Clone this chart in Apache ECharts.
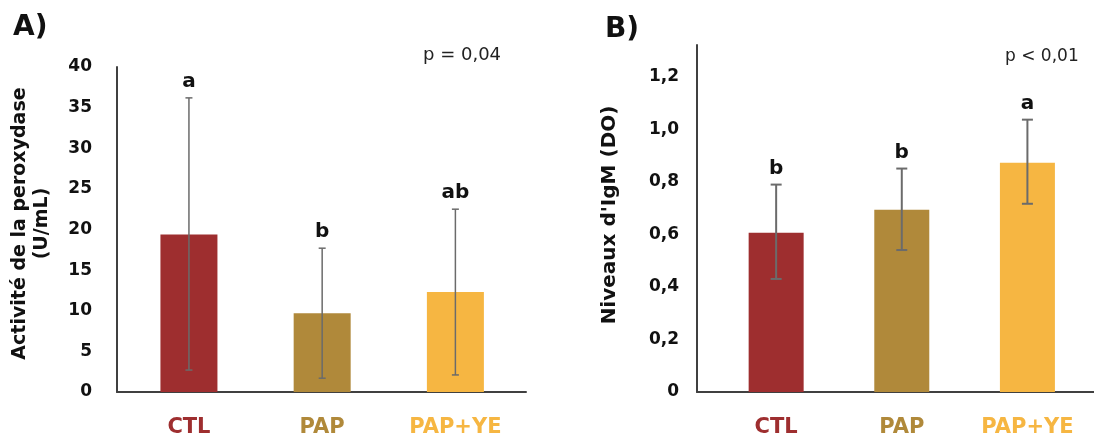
<!DOCTYPE html>
<html>
<head>
<meta charset="utf-8">
<script src="https://cdn.jsdelivr.net/npm/echarts@6/dist/echarts.min.js"></script>
<style>
html, body { margin: 0; padding: 0; background: #fff; }
#main { width: 1094px; height: 439px; }
</style>
</head>
<body>
<div id="main"></div>
<script>
// groupes
var categories = ['CTL', 'PAP', 'PAP+YE'];
var barColors = ['#9E2E2F', '#B0893A', '#F6B642'];

// A) peroxydase (U/mL)
var peroxMean = [19.4, 9.7, 12.3];
var peroxHigh = [36.2, 17.7, 22.5];
var peroxLow = [2.7, 1.7, 2.1];
var peroxLetters = ['a', 'b', 'ab'];

// B) IgM (DO)
var igmMean = [0.606, 0.693, 0.872];
var igmHigh = [0.789, 0.85, 1.036];
var igmLow = [0.43, 0.54, 0.716];
var igmLetters = ['b', 'b', 'a'];

var font = '"DejaVu Sans", sans-serif';
var axisColor = '#404040';
var errColor = '#6b6b6b';

function barData(vals) {
    return vals.map(function (v, i) {
        return { value: [i, v], itemStyle: { color: barColors[i] } };
    });
}

function errData(low, high, letters) {
    return low.map(function (l, i) { return [i, l, high[i], letters[i]]; });
}

function errRender(capHalf, lw) {
    return function (params, api) {
        var x = api.value(0);
        var lo = api.coord([x, api.value(1)]);
        var hi = api.coord([x, api.value(2)]);
        var st = { stroke: errColor, lineWidth: lw };
        return {
            type: 'group',
            children: [
                { type: 'line', shape: { x1: lo[0], y1: lo[1], x2: hi[0], y2: hi[1] }, style: st },
                { type: 'line', shape: { x1: lo[0] - capHalf, y1: lo[1], x2: lo[0] + capHalf, y2: lo[1] }, style: st },
                { type: 'line', shape: { x1: hi[0] - capHalf, y1: hi[1], x2: hi[0] + capHalf, y2: hi[1] }, style: st },
                {
                    type: 'text',
                    style: {
                        x: hi[0], y: hi[1] - 16, text: api.value(3),
                        fill: '#111', font: 'bold 20px ' + font,
                        align: 'center', verticalAlign: 'middle'
                    }
                }
            ]
        };
    };
}

var catRich = {};
categories.forEach(function (c, i) {
    catRich['c' + i] = { color: barColors[i], fontSize: 21, fontWeight: 'bold', fontFamily: font };
});

function catAxis(gridIndex, min, max) {
    return {
        type: 'value', gridIndex: gridIndex, min: min, max: max,
        splitLine: { show: false },
        axisTick: { show: false },
        axisLine: { show: true, onZero: false, lineStyle: { color: axisColor, width: 2 } },
        axisLabel: {
            customValues: [0, 1, 2],
            margin: 25,
            formatter: function (v) {
                var i = Math.round(v);
                return '{c' + i + '|' + categories[i] + '}';
            },
            rich: catRich
        }
    };
}

function comma(v) {
    return v === 0 ? '0' : v.toFixed(1).replace('.', ',');
}

var chart = echarts.init(document.getElementById('main'));

var option = {
    animation: false,
    title: [
        { text: 'A)', left: 13, top: 14, padding: 0, textStyle: { fontSize: 28, fontWeight: 'bold', color: '#111', fontFamily: font } },
        { text: 'B)', left: 605, top: 16, padding: 0, textStyle: { fontSize: 28, fontWeight: 'bold', color: '#111', fontFamily: font } },
        { text: 'p = 0,04', left: 423, top: 46, padding: 0, textStyle: { fontSize: 18, fontWeight: 'normal', color: '#222', fontFamily: font } },
        { text: 'p < 0,01', left: 1005, top: 48, padding: 0, textStyle: { fontSize: 17, fontWeight: 'normal', color: '#222', fontFamily: font } }
    ],
    grid: [
        { left: 117, top: 67, width: 409, height: 325 },
        { left: 697, top: 45, width: 397, height: 347 }
    ],
    xAxis: [
        catAxis(0, -0.54, 2.53),
        catAxis(1, -0.63, 2.53)
    ],
    yAxis: [
        {
            type: 'value', gridIndex: 0, min: 0, max: 40, interval: 5,
            name: 'Activité de la peroxydase\n(U/mL)',
            nameLocation: 'middle', nameGap: 64, nameRotate: 90,
            nameTextStyle: { fontSize: 19, fontWeight: 'bold', color: '#111', fontFamily: font, lineHeight: 22, padding: [0, 0, 0, 12] },
            splitLine: { show: false },
            axisTick: { show: false },
            axisLine: { show: true, onZero: false, lineStyle: { color: axisColor, width: 2 } },
            axisLabel: { margin: 25, fontSize: 17, fontWeight: 'bold', color: '#111', fontFamily: font }
        },
        {
            type: 'value', gridIndex: 1, min: 0, max: 1.32, interval: 0.2,
            name: "Niveaux d'IgM (DO)",
            nameLocation: 'middle', nameGap: 77, nameRotate: 90,
            nameTextStyle: { fontSize: 20, fontWeight: 'bold', color: '#111', fontFamily: font, padding: [0, 0, 0, 7] },
            splitLine: { show: false },
            axisTick: { show: false },
            axisLine: { show: true, onZero: false, lineStyle: { color: axisColor, width: 2 } },
            axisLabel: {
                margin: 18, fontSize: 17, fontWeight: 'bold', color: '#111', fontFamily: font,
                formatter: function (v) {
                    var k = v / 0.2;
                    if (Math.abs(k - Math.round(k)) > 1e-6) return '';
                    return comma(v);
                }
            }
        }
    ],
    series: [
        { type: 'bar', xAxisIndex: 0, yAxisIndex: 0, barWidth: 57, data: barData(peroxMean) },
        { type: 'custom', xAxisIndex: 0, yAxisIndex: 0, renderItem: errRender(3.5, 1.5), data: errData(peroxLow, peroxHigh, peroxLetters), z: 5 },
        { type: 'bar', xAxisIndex: 1, yAxisIndex: 1, barWidth: 55, data: barData(igmMean) },
        { type: 'custom', xAxisIndex: 1, yAxisIndex: 1, renderItem: errRender(5.5, 2), data: errData(igmLow, igmHigh, igmLetters), z: 5 }
    ]
};

chart.setOption(option);
</script>
</body>
</html>
